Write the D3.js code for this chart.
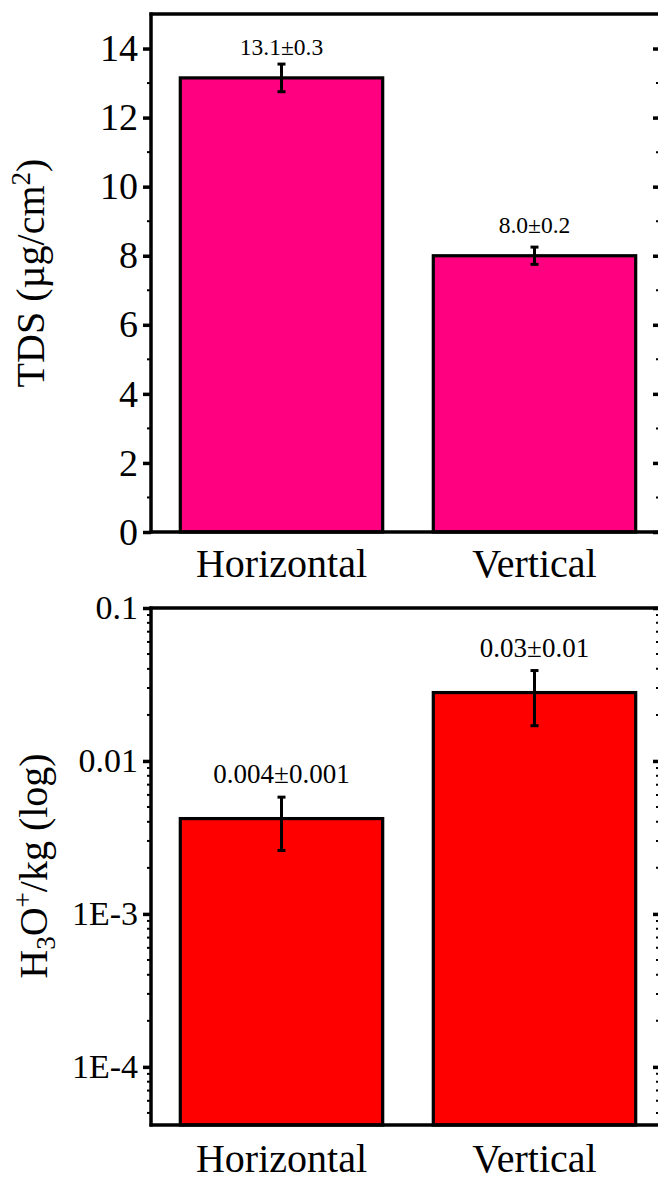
<!DOCTYPE html>
<html>
<head>
<meta charset="utf-8">
<script src="https://cdn.jsdelivr.net/npm/d3@7"></script>
<style>
  html, body { margin: 0; padding: 0; background: #fff; }
  svg { display: block; }
  svg text { font-family: "Liberation Serif", "DejaVu Serif", serif !important; fill: #000; }
</style>
</head>
<body>
<script>
// ---- data ----
const categories = ["Horizontal", "Vertical"];

const tdsValues = [13.15, 8.0];
const tdsErrors = [0.4, 0.25];
const tdsLabels = ["13.1\u00b10.3", "8.0\u00b10.2"];
const tdsTicks = [0, 2, 4, 6, 8, 10, 12, 14];
const tdsMinorTicks = [1, 3, 5, 7, 9, 11, 13];

const h3oValues = [0.0042, 0.028];
const h3oErrors = [0.0016, 0.011];
const h3oLabels = ["0.004\u00b10.001", "0.03\u00b10.01"];
const h3oTicks = [0.1, 0.01, 0.001, 0.0001];
const h3oTickLabels = ["0.1", "0.01", "1E-3", "1E-4"];

// ---- setup ----
const W = 658, H = 1182;
const FONT = "'Liberation Serif', 'DejaVu Serif', serif";
const svg = d3.select("body").append("svg").attr("width", W).attr("height", H)
  .attr("font-family", FONT);

const axisX = 151, rightX = 661;
const x = d3.scaleBand().domain(categories).range([155, 661]).paddingInner(0.2).paddingOuter(0.1);

function panel(opts) {
  const g = svg.append("g");
  const y = opts.y;
  const [yb, yt] = y.range();
  const data = categories.map((c, i) => ({c, v: opts.values[i], e: opts.errors[i], l: opts.labels[i]}));

  // bars
  g.selectAll("rect.bar").data(data).enter().append("rect")
    .attr("class", "bar")
    .attr("x", d => x(d.c))
    .attr("width", x.bandwidth())
    .attr("y", d => y(d.v))
    .attr("height", d => yb - y(d.v))
    .attr("fill", opts.color)
    .attr("stroke", "#000").attr("stroke-width", 3.2);

  // error bars
  const cx = d => x(d.c) + x.bandwidth() / 2;
  g.selectAll("line.err").data(data).enter().append("line")
    .attr("x1", cx).attr("x2", cx)
    .attr("y1", d => y(d.v + d.e)).attr("y2", d => y(d.v - d.e))
    .attr("stroke", "#000").attr("stroke-width", 3);
  ["+", "-"].forEach(s => {
    g.selectAll("line.cap" + (s === "+" ? "p" : "m")).data(data).enter().append("line")
      .attr("x1", d => cx(d) - 4).attr("x2", d => cx(d) + 4)
      .attr("y1", d => y(s === "+" ? d.v + d.e : d.v - d.e))
      .attr("y2", d => y(s === "+" ? d.v + d.e : d.v - d.e))
      .attr("stroke", "#000").attr("stroke-width", 3);
  });

  // value labels
  g.selectAll("text.val").data(data).enter().append("text")
    .attr("x", cx)
    .attr("y", d => opts.labelFromBar ? y(d.v) - opts.labelGap : y(d.v + d.e) - opts.labelGap)
    .attr("text-anchor", "middle")
    .attr("font-family", FONT)
    .attr("font-size", opts.valFont)
    .text(d => d.l);

  // left axis
  const left = d3.axisLeft(y).tickValues(opts.ticks).tickFormat((d, i) => opts.tickLabels[i])
    .tickSize(8).tickPadding(5);
  const la = g.append("g").attr("transform", `translate(${axisX},0)`).call(left)
    .attr("font-family", FONT);
  la.select(".domain").remove();
  la.selectAll(".tick line").attr("stroke", "#000").attr("stroke-width", 3.5);
  la.selectAll(".tick text").attr("font-size", opts.tickFont).attr("font-family", FONT).attr("fill", "#000");

  // minor ticks left
  g.selectAll("line.minl").data(opts.minor).enter().append("line")
    .attr("x1", axisX - 4).attr("x2", axisX)
    .attr("y1", d => y(d)).attr("y2", d => y(d))
    .attr("stroke", "#000").attr("stroke-width", 2);

  // right axis ticks (inward)
  const right = d3.axisLeft(y).tickValues(opts.ticks).tickFormat("").tickSize(8);
  const ra = g.append("g").attr("transform", `translate(${rightX},0)`).call(right);
  ra.select(".domain").remove();
  ra.selectAll(".tick line").attr("stroke", "#000").attr("stroke-width", 3.5);
  g.selectAll("line.minr").data(opts.minor).enter().append("line")
    .attr("x1", rightX - 5).attr("x2", rightX)
    .attr("y1", d => y(d)).attr("y2", d => y(d))
    .attr("stroke", "#000").attr("stroke-width", 2);

  // frame lines
  g.append("line").attr("x1", axisX).attr("x2", axisX).attr("y1", yt - 1.5).attr("y2", yb + 1.5)
    .attr("stroke", "#000").attr("stroke-width", 3.5);
  g.append("line").attr("x1", axisX - 1.5).attr("x2", W + 5).attr("y1", yb).attr("y2", yb)
    .attr("stroke", "#000").attr("stroke-width", 3.5);
  g.append("line").attr("x1", axisX - 1.5).attr("x2", W + 5).attr("y1", yt).attr("y2", yt)
    .attr("stroke", "#000").attr("stroke-width", 3.5);
  g.append("line").attr("x1", rightX).attr("x2", rightX).attr("y1", yt).attr("y2", yb)
    .attr("stroke", "#000").attr("stroke-width", 3.5);

  // category labels
  g.selectAll("text.cat").data(categories).enter().append("text")
    .attr("x", d => x(d) + x.bandwidth() / 2)
    .attr("y", opts.catY)
    .attr("text-anchor", "middle")
    .attr("font-family", FONT)
    .attr("font-size", 40)
    .text(d => d);

  return g;
}

// top panel
const yTop = d3.scaleLinear().domain([0, 15]).range([532, 14]);
panel({
  y: yTop, values: tdsValues, errors: tdsErrors, labels: tdsLabels,
  ticks: tdsTicks, tickLabels: tdsTicks.map(String), minor: tdsMinorTicks,
  color: "#ff0080", valFont: 23.5, tickFont: 38, labelGap: 23, labelFromBar: true, catY: 577
});

const tTitle = svg.append("text")
  .attr("transform", "translate(44,273) rotate(-90)")
  .attr("text-anchor", "middle").attr("font-family", FONT).attr("font-size", 40);
tTitle.append("tspan").text("TDS (\u00b5g/cm");
tTitle.append("tspan").attr("font-size", 27).attr("dy", -14).text("2");
tTitle.append("tspan").attr("dy", 14).text(")");

// bottom panel
const yBot = d3.scaleLog().domain([Math.pow(10, -4.38), 0.1]).range([1125, 608]);
const logMinor = [];
[1e-5, 1e-4, 1e-3, 1e-2].forEach(dec => {
  for (let k = 2; k <= 9; k++) {
    const v = dec * k;
    if (v >= yBot.domain()[0] && v <= 0.1) logMinor.push(v);
  }
});
panel({
  y: yBot, values: h3oValues, errors: h3oErrors, labels: h3oLabels,
  ticks: h3oTicks, tickLabels: h3oTickLabels, minor: logMinor,
  color: "#ff0000", valFont: 27, tickFont: 34, labelGap: 14, labelFromBar: false, catY: 1172
});

const bTitle = svg.append("text")
  .attr("transform", "translate(47,866) rotate(-90)")
  .attr("text-anchor", "middle").attr("font-family", FONT).attr("font-size", 40);
bTitle.append("tspan").text("H");
bTitle.append("tspan").attr("font-size", 27).attr("dy", 8).text("3");
bTitle.append("tspan").attr("dy", -8).text("O");
bTitle.append("tspan").attr("font-size", 27).attr("dy", -15).text("+");
bTitle.append("tspan").attr("dy", 15).text("/kg (log)");
</script>
</body>
</html>
